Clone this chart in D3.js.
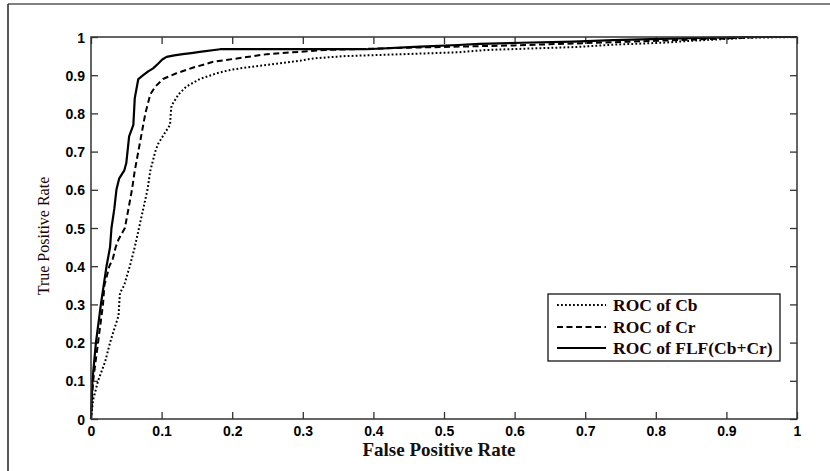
<!DOCTYPE html>
<html>
<head>
<meta charset="utf-8">
<script src="https://cdn.jsdelivr.net/npm/d3@7"></script>
<style>
  html, body { margin: 0; padding: 0; background: #fff; }
  svg { display: block; }
  .tick text { font-family: "Liberation Sans", Arial, sans-serif; font-weight: bold; font-size: 14px; fill: #000; }
  .tick line { stroke: #333; stroke-width: 1.3; }
</style>
</head>
<body>
<svg id="chart" width="830" height="471"></svg>
<script>
// ROC of Cb (dotted)
const cbFpr = [0, 0.003, 0.01, 0.02, 0.027, 0.032, 0.039, 0.040, 0.041, 0.047, 0.055, 0.062, 0.068, 0.074, 0.08, 0.084, 0.091, 0.095, 0.105, 0.112, 0.113, 0.114, 0.124, 0.135, 0.154, 0.178, 0.2, 0.24, 0.272, 0.296, 0.315, 0.36, 0.457, 0.52, 0.56, 0.69, 0.74, 0.81, 0.85, 0.93, 1];
const cbTpr = [0, 0.05, 0.1, 0.15, 0.2, 0.23, 0.27, 0.3, 0.33, 0.35, 0.4, 0.45, 0.5, 0.55, 0.6, 0.65, 0.7, 0.72, 0.75, 0.77, 0.8, 0.82, 0.85, 0.87, 0.89, 0.905, 0.915, 0.925, 0.932, 0.938, 0.944, 0.95, 0.956, 0.96, 0.966, 0.974, 0.98, 0.985, 0.99, 0.998, 1];

// ROC of Cr (dashed)
const crFpr = [0, 0.003, 0.01, 0.017, 0.019, 0.026, 0.031, 0.035, 0.039, 0.048, 0.053, 0.058, 0.062, 0.067, 0.072, 0.077, 0.084, 0.091, 0.102, 0.121, 0.145, 0.173, 0.211, 0.249, 0.286, 0.33, 0.45, 0.6, 0.7, 0.8, 0.88, 0.95, 1];
const crTpr = [0, 0.1, 0.2, 0.3, 0.35, 0.4, 0.42, 0.45, 0.47, 0.5, 0.55, 0.6, 0.65, 0.7, 0.75, 0.8, 0.85, 0.87, 0.89, 0.905, 0.92, 0.935, 0.945, 0.955, 0.96, 0.966, 0.972, 0.978, 0.984, 0.99, 0.995, 1, 1];

// ROC of FLF(Cb+Cr) (solid)
const flfFpr = [0, 0.002, 0.003, 0.007, 0.014, 0.022, 0.027, 0.029, 0.033, 0.036, 0.040, 0.047, 0.05, 0.054, 0.06, 0.062, 0.067, 0.074, 0.081, 0.088, 0.095, 0.101, 0.107, 0.118, 0.13, 0.142, 0.154, 0.183, 0.39, 0.466, 0.52, 0.55, 0.61, 0.683, 0.74, 0.82, 0.93, 1];
const flfTpr = [0, 0.1, 0.12, 0.2, 0.3, 0.4, 0.45, 0.5, 0.55, 0.6, 0.63, 0.65, 0.67, 0.74, 0.77, 0.84, 0.89, 0.9, 0.91, 0.918, 0.93, 0.941, 0.948, 0.952, 0.955, 0.958, 0.961, 0.968, 0.968, 0.975, 0.979, 0.982, 0.985, 0.988, 0.992, 0.996, 1, 1];

const seriesNames = ["ROC of Cb", "ROC of Cr", "ROC of FLF(Cb+Cr)"];
const xTicks = [0, 0.1, 0.2, 0.3, 0.4, 0.5, 0.6, 0.7, 0.8, 0.9, 1];
const yTicks = [0, 0.1, 0.2, 0.3, 0.4, 0.5, 0.6, 0.7, 0.8, 0.9, 1];

(function () {
  const svg = d3.select("#chart");
  const plotLeft = 91, plotRight = 797, plotTop = 37, plotBottom = 419;

  const x = d3.scaleLinear().domain([0, 1]).range([plotLeft, plotRight]);
  const y = d3.scaleLinear().domain([0, 1]).range([plotBottom, plotTop]);
  const fmt = d => (d === 0 || d === 1) ? String(d) : d3.format(".1f")(d);

  // outer frame edges
  svg.append("line").attr("x1", 8).attr("x2", 830).attr("y1", 4).attr("y2", 4)
    .attr("stroke", "#808080").attr("stroke-width", 2);
  svg.append("line").attr("x1", 8).attr("x2", 8).attr("y1", 4).attr("y2", 471)
    .attr("stroke", "#222").attr("stroke-width", 1.5);

  // axes with inward ticks
  const gx = svg.append("g").attr("transform", `translate(0,${plotBottom})`)
    .call(d3.axisBottom(x).tickValues(xTicks).tickFormat(fmt).tickSize(-7).tickPadding(7));
  const gy = svg.append("g").attr("transform", `translate(${plotLeft},0)`)
    .call(d3.axisLeft(y).tickValues(yTicks).tickFormat(fmt).tickSize(-7).tickPadding(6));
  const gt = svg.append("g").attr("transform", `translate(0,${plotTop})`)
    .call(d3.axisTop(x).tickValues(xTicks).tickFormat("").tickSize(-7));
  const gr = svg.append("g").attr("transform", `translate(${plotRight},0)`)
    .call(d3.axisRight(y).tickValues(yTicks).tickFormat("").tickSize(-7));
  [gx, gy, gt, gr].forEach(g => g.select(".domain").remove());
  gy.selectAll(".tick text").attr("dy", "0.36em");

  // curves
  const line = d3.line().x(d => x(d[0])).y(d => y(d[1]));
  const curves = [
    { fpr: cbFpr, tpr: cbTpr, dash: "1.8,2.2", width: 2 },
    { fpr: crFpr, tpr: crTpr, dash: "6,3.5", width: 2 },
    { fpr: flfFpr, tpr: flfTpr, dash: null, width: 2.2 }
  ];
  curves.forEach(c => {
    svg.append("path")
      .datum(c.fpr.map((f, i) => [f, c.tpr[i]]))
      .attr("d", line)
      .attr("fill", "none")
      .attr("stroke", "#000")
      .attr("stroke-width", c.width)
      .attr("stroke-dasharray", c.dash)
      .attr("stroke-linejoin", "round");
  });

  // plot box
  svg.append("rect").attr("x", plotLeft).attr("y", plotTop)
    .attr("width", plotRight - plotLeft).attr("height", plotBottom - plotTop)
    .attr("fill", "none").attr("stroke", "#333").attr("stroke-width", 1.5);

  // axis titles
  svg.append("text").attr("x", 439).attr("y", 456)
    .attr("text-anchor", "middle")
    .style("font-family", "'Liberation Serif', 'Times New Roman', serif")
    .style("font-weight", "bold").style("font-size", "19px").attr("fill", "#111")
    .text("False Positive Rate");
  svg.append("text")
    .attr("transform", "translate(49,236) rotate(-90)")
    .attr("text-anchor", "middle")
    .style("font-family", "'Liberation Serif', 'Times New Roman', serif")
    .style("font-size", "16px").attr("fill", "#1a0505")
    .text("True Positive Rate");

  // legend
  const lg = svg.append("g");
  lg.append("rect").attr("x", 548).attr("y", 294).attr("width", 232).attr("height", 67)
    .attr("fill", "#fff").attr("stroke", "#000").attr("stroke-width", 1.2);
  const legendY = [305, 327, 348];
  curves.forEach((c, i) => {
    lg.append("line").attr("x1", 557).attr("x2", 606)
      .attr("y1", legendY[i]).attr("y2", legendY[i])
      .attr("stroke", "#000").attr("stroke-width", c.width)
      .attr("stroke-dasharray", c.dash);
    lg.append("text").attr("x", 613).attr("y", legendY[i]).attr("dy", "0.35em")
      .style("font-family", "'Liberation Serif', 'Times New Roman', serif")
      .style("font-weight", "bold").style("font-size", "17.5px").attr("fill", "#1a0505")
      .text(seriesNames[i]);
  });
})();
</script>
</body>
</html>
